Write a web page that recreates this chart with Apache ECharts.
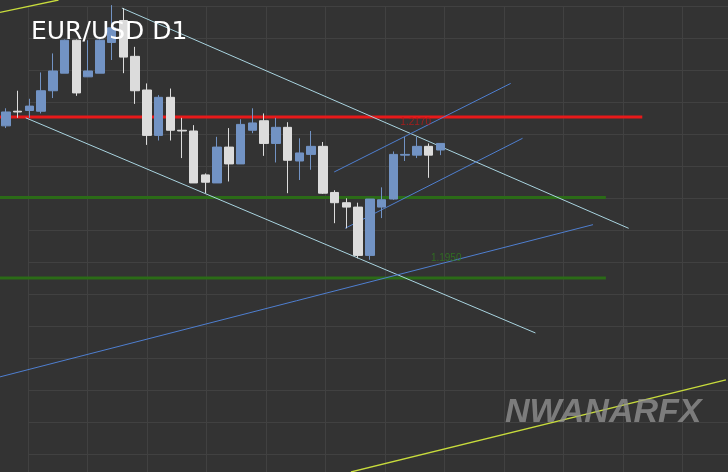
<!DOCTYPE html>
<html><head><meta charset="utf-8">
<script src="https://cdn.jsdelivr.net/npm/echarts@6/dist/echarts.min.js"></script>
<style>html,body{margin:0;padding:0;background:#333333}#c{width:728px;height:472px}</style>
</head><body><div id="c"></div>
<script>
// candles: [open, close, low, high]
const candles = [
[1.2158,1.2177,1.2155,1.2182],[1.2178,1.2177,1.2169,1.2206],[1.2179,1.2185,1.2169,1.2195],
[1.2178,1.2206,1.2175,1.2231],[1.2206,1.2233,1.2196,1.2257],[1.2230,1.2275,1.2230,1.2276],
[1.2275,1.2203,1.2199,1.2276],[1.2225,1.2233,1.2225,1.2275],[1.2230,1.2275,1.2230,1.2276],
[1.2272,1.2292,1.2248,1.2323],[1.2302,1.2252,1.2230,1.2319],[1.2253,1.2206,1.2188,1.2266],
[1.2207,1.2145,1.2132,1.2216],[1.2145,1.2197,1.2138,1.2200],[1.2197,1.2152,1.2138,1.2209],
[1.2152,1.2151,1.2114,1.2169],[1.2151,1.2080,1.2080,1.2159],[1.2091,1.2081,1.2066,1.2093],
[1.2080,1.2129,1.2080,1.2143],[1.2129,1.2106,1.2082,1.2155],[1.2106,1.2160,1.2106,1.2167],
[1.2152,1.2162,1.2148,1.2182],[1.2165,1.2134,1.2117,1.2175],[1.2134,1.2156,1.2108,1.2169],
[1.2156,1.2111,1.2066,1.2163],[1.2110,1.2121,1.2084,1.2141],[1.2119,1.2130,1.2098,1.2151],
[1.2130,1.2066,1.2065,1.2136],[1.2067,1.2053,1.2025,1.2070],[1.2053,1.2047,1.2018,1.2059],
[1.2047,1.1981,1.1977,1.2053],[1.1981,1.2058,1.1975,1.2058],[1.2047,1.2057,1.2032,1.2074],
[1.2058,1.2119,1.2057,1.2123],[1.2118,1.2119,1.2110,1.2143],[1.2118,1.2130,1.2114,1.2143],
[1.2130,1.2118,1.2087,1.2134],[1.2125,1.2134,1.2118,1.2134]
];
const categoryCount = 62;
const categories = Array.from({length: categoryCount}, (_, i) => 'D' + (i + 1));
// trend / level lines: [[index, price], [index, price]]
const redLevel = [[-0.5, 1.2170], [54.2, 1.2170]];
const greenUpper = [[-0.5, 1.2060], [51.1, 1.2060]];
const greenLower = [[-0.5, 1.1950], [51.1, 1.1950]];
const cyanTop = [[9.88, 1.2319], [53.04, 1.2018]];
const cyanBottom = [[1.69, 1.2169], [45.1, 1.1875]];
const blueUpper = [[27.96, 1.2095], [42.99, 1.2216]];
const blueLower = [[28.89, 1.2018], [44.0, 1.2141]];
const blueLong = [[-0.5, 1.1815], [50.0, 1.2023]];
const yellowBottom = [[29.39, 1.1685], [61.32, 1.1811]];
const yellowTop = [[-0.5, 1.2313], [4.48, 1.2330]];
const levelLabels = [
  {value: [34.9, 1.2163], text: '1.2170', color: '#c01818'},
  {value: [37.5, 1.1977], text: '1.1950', color: '#2f7a1e'}
];
const title = 'EUR/USD D1';

function line(data, color, width) {
  return {type: 'line', xAxisIndex: 1, yAxisIndex: 0, data: data, symbol: 'none',
    lineStyle: {color: color, width: width}, silent: true, animation: false, z: 3};
}
const chart = echarts.init(document.getElementById('c'));
chart.setOption({
  backgroundColor: '#333333',
  animation: false,
  title: {text: title, left: 26, top: 15, textStyle: {color: '#ffffff', fontSize: 25, fontWeight: 'normal', fontFamily: 'DejaVu Sans'}},
  grid: [
    {left: -4, right: -2, top: 0, bottom: 0},
    {left: 28, right: 0, top: 6, bottom: 0}
  ],
  xAxis: [
    {type: 'category', data: categories, gridIndex: 0, boundaryGap: true, show: false},
    {type: 'value', gridIndex: 0, min: -0.5, max: categoryCount - 0.5, show: false},
    {type: 'value', gridIndex: 1, min: 0, max: 700, interval: 59.5, axisLine: {show: false}, axisTick: {show: false}, axisLabel: {show: false}, splitLine: {show: true, lineStyle: {color: '#414141', width: 1}}}
  ],
  yAxis: [
    {type: 'value', gridIndex: 0, min: 1.1685, max: 1.2330, show: false, scale: true},
    {type: 'value', gridIndex: 1, min: 0, max: 466, interval: 32, inverse: true, axisLine: {show: false}, axisTick: {show: false}, axisLabel: {show: false}, splitLine: {show: true, lineStyle: {color: '#414141', width: 1}}}
  ],
  series: [
    {type: 'candlestick', xAxisIndex: 0, yAxisIndex: 0, data: candles, barWidth: 9, z: 4,
     itemStyle: {color: '#7293c4', color0: '#dcdcdc', borderColor: '#7293c4', borderColor0: '#dcdcdc', borderWidth: 1}},
    line(redLevel, '#e8191a', 3),
    line(greenUpper, '#2b6b17', 3),
    line(greenLower, '#2b6b17', 3),
    line(cyanTop, '#a9d4e0', 1),
    line(cyanBottom, '#a9d4e0', 1),
    line(blueUpper, '#4f7fd0', 1),
    line(blueLower, '#4f7fd0', 1),
    line(blueLong, '#4f7fd0', 1),
    line(yellowBottom, '#c8dc3c', 1.3),
    line(yellowTop, '#c8dc3c', 1.3),
    {type: 'scatter', xAxisIndex: 1, yAxisIndex: 0, symbolSize: 0, silent: true, z: 5,
     data: levelLabels.map(l => ({value: l.value, label: {show: true, formatter: l.text, color: l.color, fontSize: 10, position: 'inside'}}))}
  ],
  graphic: [{type: 'text', left: 505, top: 396, z: 10,
    style: {text: 'NWANARFX', fontSize: 34, fontStyle: 'italic', fontWeight: 'bold', fill: 'rgba(150,150,150,0.75)', fontFamily: 'Liberation Sans'}}]
});
</script></body></html>
